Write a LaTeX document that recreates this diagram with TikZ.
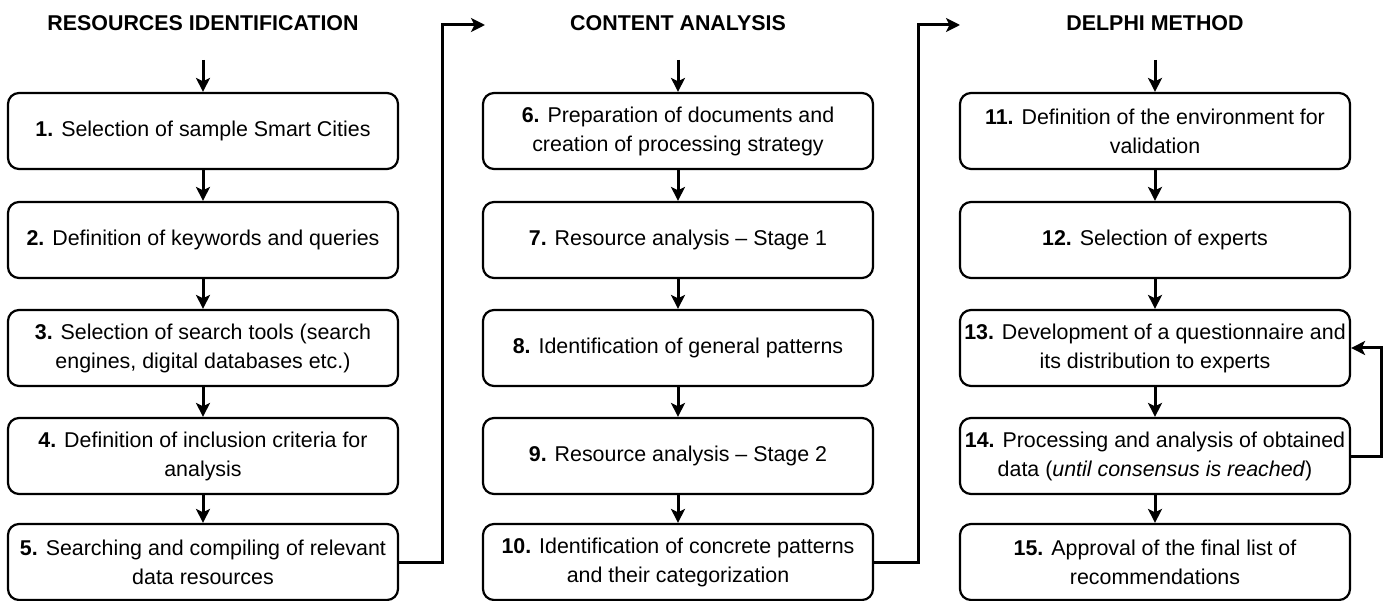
\documentclass[tikz,border=0pt]{standalone}
\usepackage{fontspec}
\setmainfont{Liberation Sans}
\usetikzlibrary{arrows.meta}
\begin{document}
\begin{tikzpicture}[x=1pt,y=-1pt,
  stepbox/.style={draw,line width=2.2pt,rounded corners=11pt,minimum width=390pt,minimum height=76pt,inner sep=0pt,align=center,font=\fontsize{21.4}{29}\selectfont},
  title/.style={font=\fontsize{21.4}{25}\selectfont\bfseries},
  conn/.style={line width=3pt,-{Stealth[length=14pt,width=14pt,inset=3.5pt]}}]
\useasboundingbox (0,0) rectangle (1387,601);
% titles
\node[title] (t1) at (203,23) {RESOURCES IDENTIFICATION};
\node[title] (t2) at (678,23) {CONTENT ANALYSIS};
\node[title] (t3) at (1155,23) {DELPHI METHOD};
% column 1
\node[stepbox] (b1) at (203,131) {\textbf{1.} Selection of sample Smart Cities};
\node[stepbox] (b2) at (203,240) {\textbf{2.} Definition of keywords and queries};
\node[stepbox] (b3) at (203,348) {\textbf{3.} Selection of search tools (search\\engines, digital databases etc.)};
\node[stepbox] (b4) at (203,456) {\textbf{4.} Definition of inclusion criteria for\\analysis};
\node[stepbox] (b5) at (203,562) {\textbf{5.} Searching and compiling of relevant\\data resources};
% column 2
\node[stepbox] (b6) at (678,131) {\textbf{6.} Preparation of documents and\\creation of processing strategy};
\node[stepbox] (b7) at (678,240) {\textbf{7.} Resource analysis -- Stage 1};
\node[stepbox] (b8) at (678,348) {\textbf{8.} Identification of general patterns};
\node[stepbox] (b9) at (678,456) {\textbf{9.} Resource analysis -- Stage 2};
\node[stepbox] (b10) at (678,562) {\textbf{10.} Identification of concrete patterns\\and their categorization};
% column 3
\node[stepbox] (b11) at (1155,131) {\textbf{11.} Definition of the environment for\\validation};
\node[stepbox] (b12) at (1155,240) {\textbf{12.} Selection of experts};
\node[stepbox] (b13) at (1155,348) {\textbf{13.} Development of a questionnaire and\\its distribution to experts};
\node[stepbox] (b14) at (1155,456) {\textbf{14.} Processing and analysis of obtained\\data (\textit{until consensus is reached})};
\node[stepbox] (b15) at (1155,562) {\textbf{15.} Approval of the final list of\\recommendations};
% start coordinates
\coordinate (s1) at (203,60);
\coordinate (s2) at (678,60);
\coordinate (s3) at (1155,60);
\draw[conn] (s1) -- (b1);
\draw[conn] (s2) -- (b6);
\draw[conn] (s3) -- (b11);
% vertical flows
\draw[conn] (b1) -- (b2);
\draw[conn] (b2) -- (b3);
\draw[conn] (b3) -- (b4);
\draw[conn] (b4) -- (b5);
\draw[conn] (b6) -- (b7);
\draw[conn] (b7) -- (b8);
\draw[conn] (b8) -- (b9);
\draw[conn] (b9) -- (b10);
\draw[conn] (b11) -- (b12);
\draw[conn] (b12) -- (b13);
\draw[conn] (b13) -- (b14);
\draw[conn] (b14) -- (b15);
% cross-column connectors
\coordinate (e1) at (485,25);
\coordinate (e2) at (960,25);
\draw[conn,line join=miter] (b5.east) -| (442,25) -- (e1);
\draw[conn,line join=miter] (b10.east) -| (918,25) -- (e2);
% feedback loop
\draw[conn,line join=miter] (b14.east) -- (1381,456) |- (b13.east);
\end{tikzpicture}
\end{document}
